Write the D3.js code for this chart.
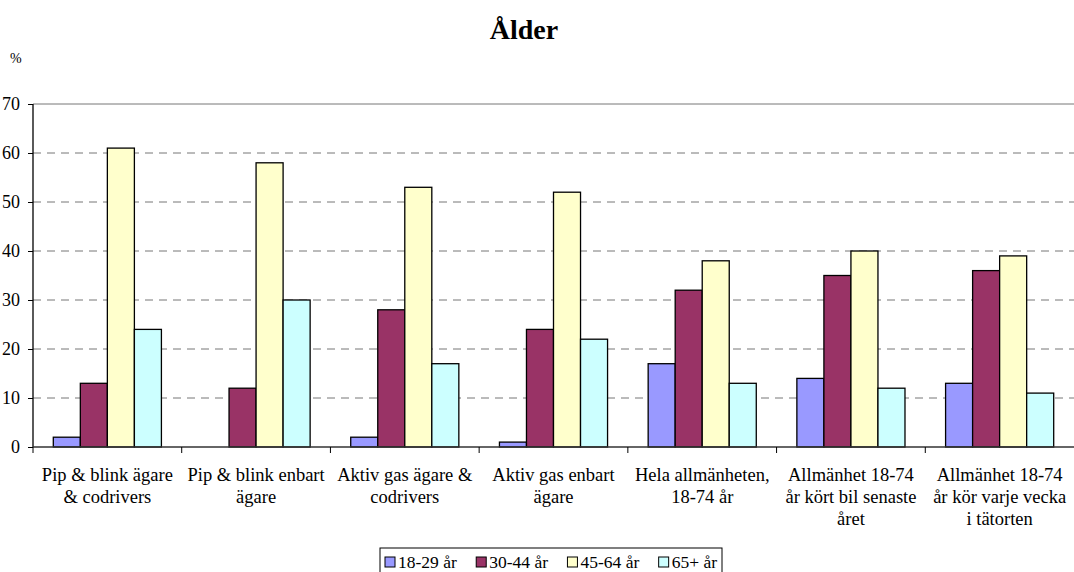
<!DOCTYPE html>
<html>
<head>
<meta charset="utf-8">
<script src="https://cdn.jsdelivr.net/npm/d3@7"></script>
<style>
  body { margin: 0; background: #fff; }
  svg text { font-family: "Liberation Serif", "Times New Roman", serif; }
</style>
</head>
<body>
<svg id="chart"></svg>
<script>
// categories and series
const categories = [
    ["Pip & blink ägare", "& codrivers"],
    ["Pip & blink enbart", "ägare"],
    ["Aktiv gas ägare &", "codrivers"],
    ["Aktiv gas enbart", "ägare"],
    ["Hela allmänheten,", "18-74 år"],
    ["Allmänhet 18-74", "år kört bil senaste", "året"],
    ["Allmänhet 18-74", "år kör varje vecka", "i tätorten"]
]
const seriesNames = ["18-29 år", "30-44 år", "45-64 år", "65+ år"]
const seriesColors = ["#9999ff", "#993366", "#ffffcc", "#ccffff"]
const age1829 = [2, 0, 2, 1, 17, 14, 13]
const age3044 = [13, 12, 28, 24, 32, 35, 36]
const age4564 = [61, 58, 53, 52, 38, 40, 39]
const age65 = [24, 30, 17, 22, 13, 12, 11]
const yTicks = [0, 10, 20, 30, 40, 50, 60, 70]

const series = [age1829, age3044, age4564, age65]

const W = 1074, H = 572
const margin = { top: 104, right: 0, bottom: 125, left: 33 }
const width = W - margin.left - margin.right
const height = H - margin.top - margin.bottom
const serif = "Liberation Serif, Times New Roman, serif"

const svg = d3.select("#chart")
    .attr("width", W)
    .attr("height", H)

const g = svg.append("g")
    .attr("transform", `translate(${margin.left},${margin.top})`)

const x0 = d3.scaleBand()
    .domain(d3.range(categories.length))
    .range([0, width])

const x1 = d3.scaleBand()
    .domain(d3.range(seriesNames.length))
    .range([0, x0.bandwidth() * 0.727])

const y = d3.scaleLinear()
    .domain([0, 70])
    .range([height, 0])

// gridlines
g.selectAll(".grid")
    .data(yTicks.filter(t => t > 0))
    .enter().append("line")
    .attr("class", "grid")
    .attr("x1", 0)
    .attr("x2", width)
    .attr("y1", d => y(d))
    .attr("y2", d => y(d))
    .attr("stroke", "#777")
    .attr("stroke-width", 1)
    .style("stroke-dasharray", d => d === 70 ? null : "8,6")

// bars
const groupOffset = (x0.bandwidth() - x1.range()[1]) / 2
const groups = g.selectAll(".group")
    .data(categories)
    .enter().append("g")
    .attr("class", "group")
    .attr("transform", (d, i) => `translate(${x0(i) + groupOffset},0)`)

groups.selectAll("rect")
    .data((d, i) => series.map((s, j) => ({ j, v: s[i] })).filter(d => d.v > 0))
    .enter().append("rect")
    .attr("x", d => x1(d.j))
    .attr("width", x1.bandwidth())
    .attr("y", d => y(d.v))
    .attr("height", d => height - y(d.v))
    .attr("fill", d => seriesColors[d.j])
    .attr("stroke", "#000")
    .attr("stroke-width", 1.3)

// y axis
const yAxis = d3.axisLeft(y)
    .tickValues(yTicks)
    .tickSize(5)
    .tickPadding(8)
g.append("g")
    .call(yAxis)
    .attr("font-family", serif)
    .call(a => a.select(".domain").attr("stroke", "#000").attr("stroke-width", 1.3).attr("d", `M0,0V${height}`))
    .call(a => a.selectAll(".tick line").attr("stroke", "#000"))
    .call(a => a.selectAll("text").attr("font-size", 18).attr("fill", "#000"))

// x axis baseline and ticks between categories
g.append("line")
    .attr("x1", 0).attr("x2", width)
    .attr("y1", height).attr("y2", height)
    .attr("stroke", "#333")
    .attr("stroke-width", 1.3)

g.selectAll(".xtick")
    .data(d3.range(categories.length))
    .enter().append("line")
    .attr("x1", d => x0(d)).attr("x2", d => x0(d))
    .attr("y1", height).attr("y2", height + 6)
    .attr("stroke", "#000")

// category labels
const labels = g.selectAll(".cat")
    .data(categories)
    .enter().append("text")
    .attr("class", "cat")
    .attr("text-anchor", "middle")
    .attr("font-family", serif)
    .attr("font-size", 18.5)
    .attr("fill", "#000")
    .attr("transform", (d, i) => `translate(${x0(i) + x0.bandwidth() / 2},${height + 34})`)

labels.selectAll("tspan")
    .data(d => d)
    .enter().append("tspan")
    .attr("x", 0)
    .attr("dy", (d, i) => i === 0 ? 0 : 22)
    .text(d => d)

// title and unit
svg.append("text")
    .attr("x", 524)
    .attr("y", 39)
    .attr("text-anchor", "middle")
    .attr("font-family", serif)
    .attr("font-size", 28)
    .attr("font-weight", "bold")
    .text("Ålder")

svg.append("text")
    .attr("x", 10)
    .attr("y", 63)
    .attr("font-family", serif)
    .attr("font-size", 14)
    .text("%")

// legend
const legendW = 342
const legend = svg.append("g")
    .attr("transform", "translate(380,548)")
legend.append("rect")
    .attr("x", 0).attr("y", 0)
    .attr("width", legendW).attr("height", 30)
    .attr("fill", "#fff")
    .attr("stroke", "#000")

const items = legend.selectAll(".item")
    .data(seriesNames)
    .enter().append("g")
    .attr("class", "item")
items.append("rect")
    .attr("x", 0).attr("y", 9)
    .attr("width", 10).attr("height", 10)
    .attr("fill", (d, i) => seriesColors[i])
    .attr("stroke", "#000")
items.append("text")
    .attr("x", 13)
    .attr("y", 20)
    .attr("font-family", serif)
    .attr("font-size", 17.5)
    .text(d => d)

const itemW = items.nodes().map(n => 13 + n.querySelector("text").getComputedTextLength())
const gap = (legendW - 10 - d3.sum(itemW)) / (itemW.length - 1)
let lx = 5
items.attr("transform", (d, i) => {
    const t = `translate(${lx},0)`
    lx += itemW[i] + gap
    return t
})
</script>
</body>
</html>
